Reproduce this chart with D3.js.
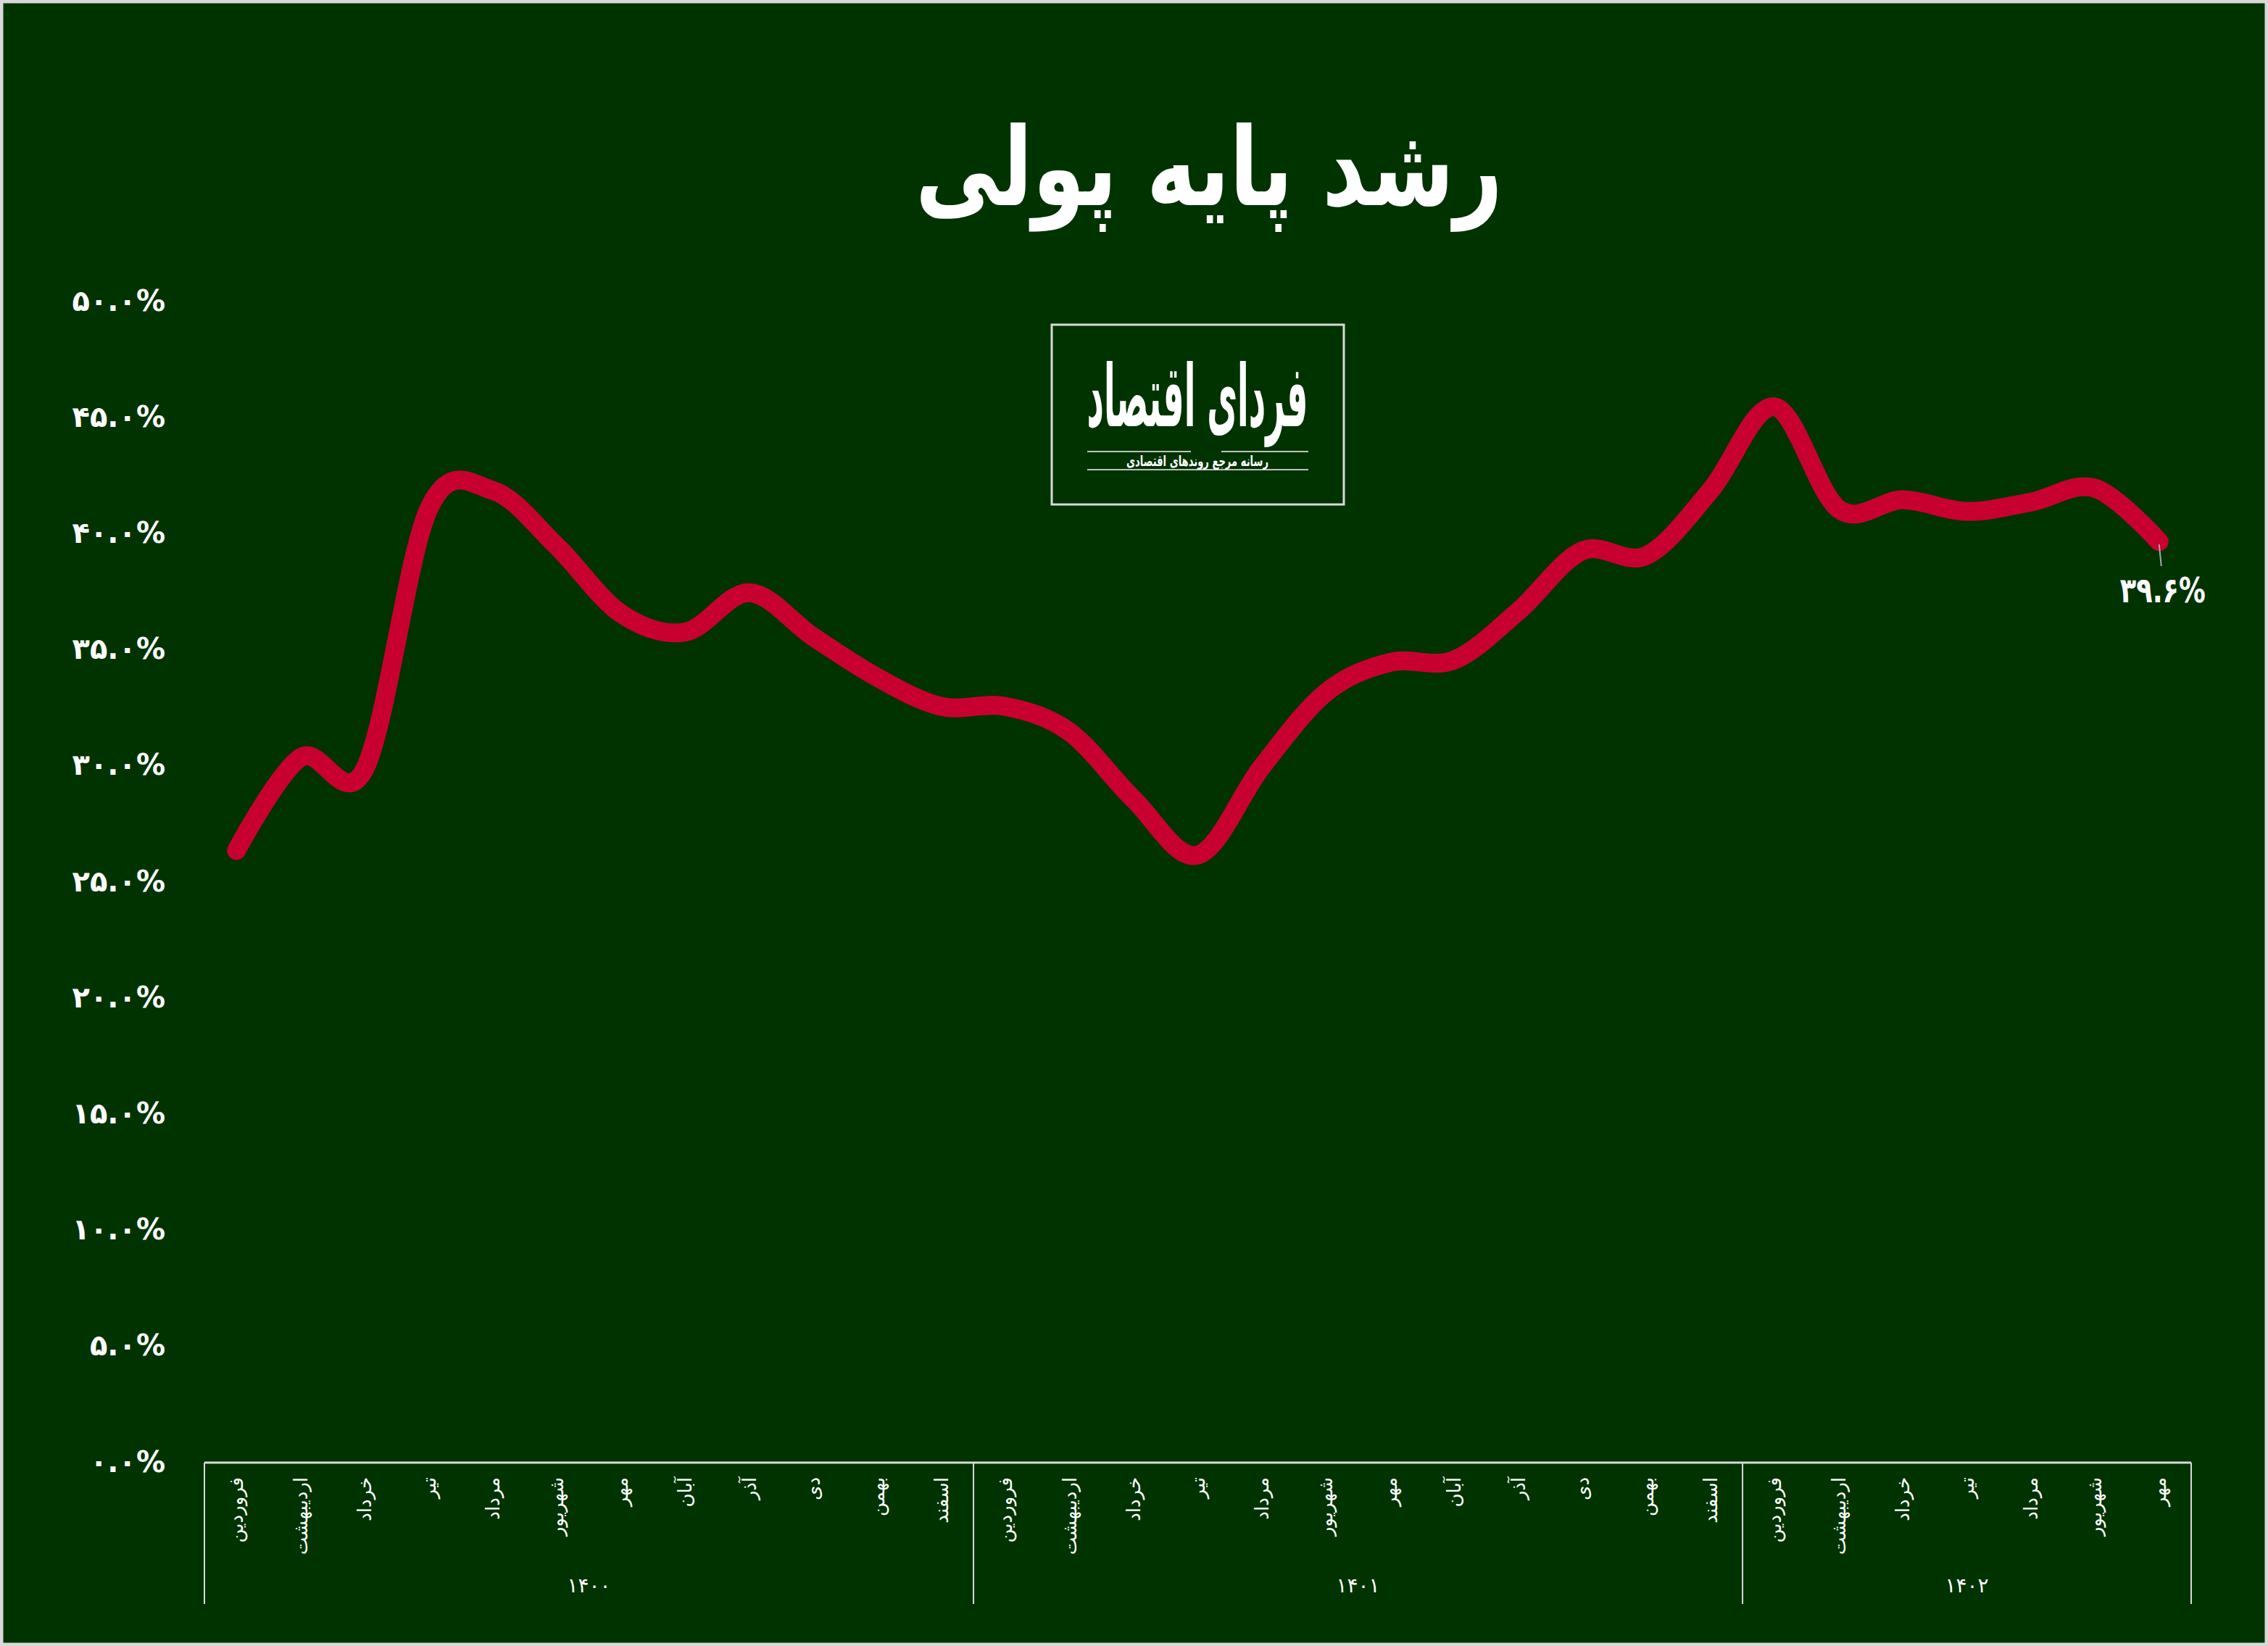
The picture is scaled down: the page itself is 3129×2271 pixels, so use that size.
<!DOCTYPE html>
<html><head><meta charset="utf-8">
<script src="https://cdn.jsdelivr.net/npm/d3@7"></script>
<style>html,body{margin:0;padding:0;background:#003300;} svg{display:block}</style>
</head><body>
<svg id="chart" width="3129" height="2271"></svg>
<script>
// ---- data ----
const title = "رشد پایه پولی";
const months = ["فروردین","اردیبهشت","خرداد","تیر","مرداد","شهریور","مهر","آبان","آذر","دی","بهمن","اسفند"];
const years = ["۱۴۰۰","۱۴۰۱","۱۴۰۲"];
const values1400 = [26.3, 30.3, 29.8, 41.0, 41.8, 39.4, 36.5, 35.7, 37.4, 35.5, 33.75, 32.5];
const values1401 = [32.5, 31.4, 28.5, 26.1, 29.9, 33.1, 34.4, 34.5, 36.6, 39.2, 39.0, 41.8];
const values1402 = [45.4, 41.0, 41.4, 40.9, 41.3, 41.9, 39.6];
const yTicks = [0,5,10,15,20,25,30,35,40,45,50];
const yTickLabels = ["۰.۰%","۵.۰%","۱۰.۰%","۱۵.۰%","۲۰.۰%","۲۵.۰%","۳۰.۰%","۳۵.۰%","۴۰.۰%","۴۵.۰%","۵۰.۰%"];
const lastLabel = "۳۹.۶%";
const logoTitle = "فردای اقتصاد";
const logoSub = "رسانه مرجع روندهای اقتصادی";

// ---- setup ----
const W = 3129, H = 2271;
const FONT = "'DejaVu Sans', 'Noto Sans', sans-serif";
const svg = d3.select("#chart");
svg.append("rect").attr("width", W).attr("height", H).attr("fill", "#003300");
svg.append("rect").attr("x", 2).attr("y", 2).attr("width", W - 4).attr("height", H - 4)
  .attr("fill", "none").attr("stroke", "#d9d9d9").attr("stroke-width", 5);

// helper: text fitted horizontally to a target width around a centre
function fittedText(parent, str, cxp, baseline, size, targetW, sy, weight) {
  const g = parent.append("g");
  const t = g.append("text").attr("x", 0).attr("y", 0).attr("text-anchor", "middle").attr("fill", "#fff")
    .style("font-family", FONT).style("font-weight", weight || "bold").style("font-size", size + "px")
    .text(str);
  const w = t.node().getComputedTextLength() || targetW;
  g.attr("transform", `translate(${cxp},${baseline}) scale(${targetW / w},${sy || 1})`);
  return g;
}

const seriesByYear = [values1400, values1401, values1402];
const data = [];
years.forEach((yr, gi) => {
  seriesByYear[gi].forEach((v, mi) => data.push({year: yr, gi, month: months[mi], value: v, key: yr + "-" + mi}));
});

const x = d3.scaleBand().domain(data.map(d => d.key)).range([282, 3023]).padding(0);
const y = d3.scaleLinear().domain([0, 50]).range([2016, 414]);
const cx = d => x(d.key) + x.bandwidth() / 2;

// ---- title ----
fittedText(svg, title, 1668, 283, 150, 810, 1, "bold");

// ---- y axis ----
const yAxis = d3.axisLeft(y).tickValues(yTicks).tickFormat((d, i) => yTickLabels[i]).tickSize(0).tickPadding(0);
const yg = svg.append("g").attr("transform", "translate(228,0)").call(yAxis);
yg.select(".domain").remove();
yg.selectAll("text").attr("fill", "#fff").attr("dy", "0.35em")
  .style("font-family", FONT).style("font-weight", "bold").style("font-size", "40px");

// ---- x axis ----
const axisY = y(0) + 2;
const xAxis = d3.axisBottom(x).tickFormat(k => data.find(d => d.key === k).month).tickSize(0);
const xg = svg.append("g").attr("transform", `translate(0,${axisY})`).call(xAxis);
xg.select(".domain").remove();
xg.selectAll("text")
  .attr("transform", "rotate(-90)")
  .attr("x", -20).attr("y", 0).attr("dy", "0.35em")
  .attr("text-anchor", "end").attr("fill", "#fff")
  .style("font-family", FONT).style("font-size", "26px");

svg.append("line").attr("x1", x.range()[0]).attr("x2", x.range()[1])
  .attr("y1", axisY).attr("y2", axisY).attr("stroke", "#d9d9d9").attr("stroke-width", 3);

// group separators and year labels
const groups = years.map((yr, gi) => {
  const ds = data.filter(d => d.gi === gi);
  return {yr, x0: x(ds[0].key), x1: x(ds[ds.length - 1].key) + x.bandwidth()};
});
const bounds = [groups[0].x0].concat(groups.map(g => g.x1));
svg.selectAll(".sep").data(bounds).enter().append("line")
  .attr("x1", d => d).attr("x2", d => d).attr("y1", axisY).attr("y2", axisY + 195)
  .attr("stroke", "#d9d9d9").attr("stroke-width", 2);
svg.selectAll(".yr").data(groups).enter().append("text")
  .attr("x", g => (g.x0 + g.x1) / 2).attr("y", axisY + 169).attr("dy", "0.35em")
  .attr("text-anchor", "middle").attr("fill", "#fff")
  .style("font-family", FONT).style("font-size", "28px")
  .text(g => g.yr);

// ---- line ----
const line = d3.line().x(cx).y(d => y(d.value)).curve(d3.curveCardinal.tension(0));
svg.append("path").datum(data).attr("d", line)
  .attr("fill", "none").attr("stroke", "#c8002f").attr("stroke-width", 26)
  .attr("stroke-linecap", "round").attr("stroke-linejoin", "round");

// last label
const last = data[data.length - 1];
svg.append("line").attr("x1", cx(last)).attr("x2", cx(last) + 3)
  .attr("y1", y(last.value) + 4).attr("y2", y(last.value) + 34)
  .attr("stroke", "#a6a6a6").attr("stroke-width", 2);
fittedText(svg, lastLabel, cx(last) + 5, y(last.value) + 84, 48, 118, 1, "bold");

// ---- logo ----
const logo = svg.append("g");
logo.append("rect").attr("x", 1451).attr("y", 448).attr("width", 403).attr("height", 248)
  .attr("fill", "none").attr("stroke", "#d9d9d9").attr("stroke-width", 3);
fittedText(logo, logoTitle, 1652, 588, 95, 305, 1.25, "bold");
logo.append("line").attr("x1", 1500).attr("x2", 1643).attr("y1", 623).attr("y2", 623)
  .attr("stroke", "#c0c0c0").attr("stroke-width", 2);
logo.append("line").attr("x1", 1685).attr("x2", 1805).attr("y1", 623).attr("y2", 623)
  .attr("stroke", "#c0c0c0").attr("stroke-width", 2);
logo.append("line").attr("x1", 1500).attr("x2", 1805).attr("y1", 648).attr("y2", 648)
  .attr("stroke", "#c0c0c0").attr("stroke-width", 2);
fittedText(logo, logoSub, 1652, 643, 20, 196, 1, "bold");
</script>
</body></html>
